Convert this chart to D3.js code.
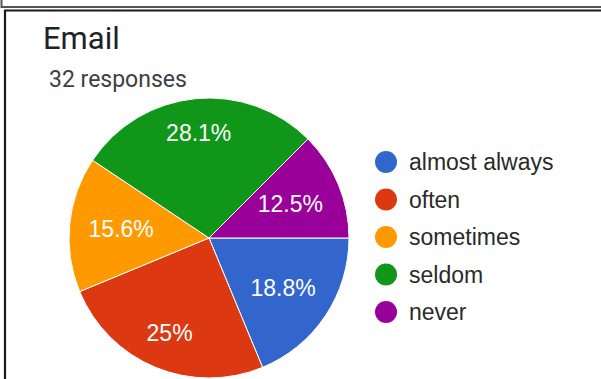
<!DOCTYPE html>
<html>
<head>
<meta charset="utf-8">
<script src="https://cdn.jsdelivr.net/npm/d3@7"></script>
<style>
  html, body { margin: 0; padding: 0; background: #fff; }
  svg { display: block; font-family: Roboto, "Noto Sans", Arial, sans-serif; }
  .chart-text { font-family: "Liberation Sans", Arial, sans-serif; }
</style>
</head>
<body>
<svg id="chart" width="601" height="379"></svg>
<script>
// Survey answers for the "Email" question
const categories = ["almost always", "often", "sometimes", "seldom", "never"];
const counts = [6, 8, 5, 9, 4];
const percentLabels = ["18.8%", "25%", "15.6%", "28.1%", "12.5%"];
const colors = ["#3366cc", "#dc3912", "#ff9900", "#109618", "#990099"];
const title = "Email";
const subtitle = "32 responses";

const svg = d3.select("#chart");
const W = 601, H = 379;

// card frame: the bottom of the previous card and the top-left edge of this one
svg.append("path")
  .attr("d", `M1.5,0 V7 H${W}`)
  .attr("fill", "none").attr("stroke", "#555").attr("stroke-width", 2);
svg.append("path")
  .attr("d", `M5,${H} V10.5 H${W}`)
  .attr("fill", "none").attr("stroke", "#1a1a1a").attr("stroke-width", 2.2);

// heading
svg.append("text").attr("x", 43).attr("y", 49)
  .attr("font-size", 31).attr("fill", "#202124").text(title);
svg.append("text").attr("x", 49).attr("y", 87)
  .attr("font-size", 23).attr("fill", "#3c4043").text(subtitle);

// pie
const cx = 209, cy = 238, r = 140;
const pie = d3.pie().sort(null)
  .startAngle(Math.PI / 2).endAngle(Math.PI / 2 + 2 * Math.PI);
const arcs = pie(counts);
const arc = d3.arc().innerRadius(0).outerRadius(r);

const g = svg.append("g").attr("transform", `translate(${cx},${cy})`);
g.selectAll("path.slice").data(arcs).join("path")
  .attr("class", "slice")
  .attr("d", arc)
  .attr("fill", (d, i) => colors[i])
  .attr("stroke", "#fff").attr("stroke-width", 1);

// slice labels: pushed outward along the mid-angle until the label box's
// far corner reaches a fixed fraction of the radius
const reach = r * 0.87;
const labels = g.selectAll("text.pct").data(arcs).join("text")
  .attr("class", "pct chart-text")
  .attr("text-anchor", "middle")
  .attr("dy", "0.35em")
  .attr("font-size", 23)
  .attr("fill", "#fff")
  .text((d, i) => percentLabels[i]);

labels.each(function (d) {
  const bb = this.getBBox();
  const hw = bb.width / 2, hh = bb.height * 0.36;
  const a = (d.startAngle + d.endAngle) / 2;
  const ux = Math.sin(a), uy = -Math.cos(a);
  const b = Math.abs(ux) * hw + Math.abs(uy) * hh;
  const c = hw * hw + hh * hh - reach * reach;
  const t = -b + Math.sqrt(b * b - c);
  d3.select(this).attr("x", ux * t).attr("y", uy * t);
});

// legend
const legend = svg.append("g").attr("transform", "translate(386,162)");
const rows = legend.selectAll("g").data(categories).join("g")
  .attr("transform", (d, i) => `translate(0,${i * 37.5})`);
rows.append("circle").attr("r", 11).attr("fill", (d, i) => colors[i]);
rows.append("text").attr("class", "chart-text").attr("x", 23).attr("dy", "0.35em")
  .attr("font-size", 23).attr("fill", "#2a2a2a").text(d => d);
</script>
</body>
</html>
